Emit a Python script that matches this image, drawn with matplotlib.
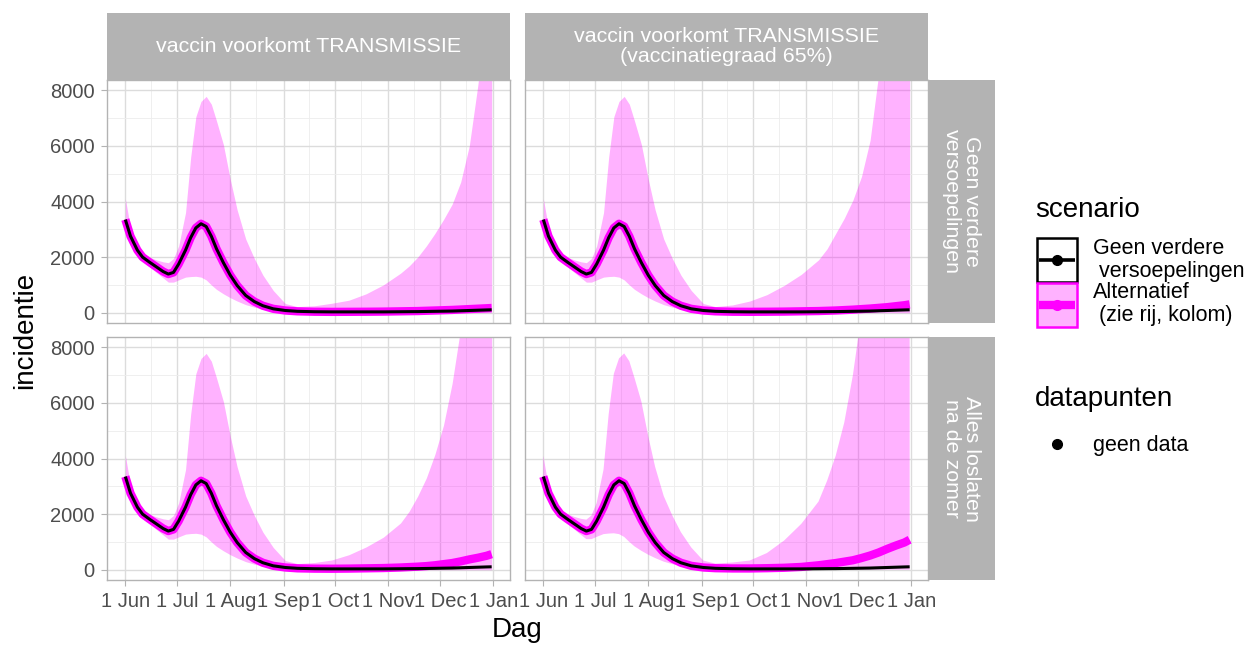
#!/usr/bin/env python3

import numpy as np
import matplotlib
matplotlib.use('Agg')
import matplotlib.pyplot as plt
import matplotlib.dates as mdates
import matplotlib.ticker as mticker
from matplotlib.patches import Rectangle
from matplotlib.lines import Line2D

plt.rcParams['font.family'] = ['Liberation Sans', 'DejaVu Sans']


# ---------- #
# -- DATA -- #
# ---------- #

start_date  = np.datetime64('2021-06-01')
day_offsets = [0, 3, 7, 10, 14, 18, 22, 25, 28, 31, 35, 38, 41, 44, 47,
               50, 53, 57, 61, 65, 70, 75, 80, 86, 93,
               100, 110, 120, 130, 140, 150, 160, 165, 170, 175, 180,
               185, 190, 195, 200, 205, 210, 213]

# black line (Geen verdere versoepelingen), same in every panel
base_early = [3350, 2750, 2250, 2000, 1820, 1650, 1480, 1390, 1450, 1750,
              2250, 2700, 3050, 3200, 3100, 2750, 2300, 1800, 1350, 980,
              620, 400, 250, 140, 80]
base_late  = [50, 35, 30, 30, 30, 30, 35, 38, 40, 45, 50, 55, 60, 70, 80,
              90, 100, 105]

# lower edge of the band
low_band = [3250, 2550, 2100, 1850, 1650, 1450, 1250, 1100, 1100, 1180,
            1280, 1300, 1310, 1280, 1180, 1000, 840, 680, 540, 420,
            290, 200, 130, 70, 30, 10, 0, 0, 0, 0, 0, 0, 0, 0, 0, 0,
            0, 0, 0, 0, 0, 0, 0]

# upper edge of the band, summer part shared by all panels
high_early = [4100, 3050, 2400, 2150, 2000, 1900, 1830, 1800, 1950, 2400,
              3600, 5600, 7050, 7600, 7780, 7500, 6900, 6050, 4800, 3700,
              2650, 1950, 1350, 800, 330]
high_late_tl = [220, 250, 340, 450, 680, 1000, 1420, 1680, 2000, 2400,
                2850, 3350, 3900, 4700, 6000, 8200, 11000, 13000]
high_late_tr = [220, 280, 420, 650, 980, 1380, 1900, 2300, 2850, 3400,
                4050, 4900, 6200, 8600, 11000, 14000, 17000, 19000]
high_late_bl = [220, 260, 350, 540, 820, 1170, 1680, 2100, 2650, 3300,
                4150, 5200, 6700, 8700, 11000, 14000, 17000, 19000]
high_late_br = [220, 260, 330, 600, 1050, 1650, 2450, 3200, 4100, 5300,
                7000, 9200, 12000, 15000, 18000, 21000, 24000, 26000]

# magenta line (Alternatief), autumn part per panel
mid_late_tl = [50, 35, 30, 32, 35, 40, 50, 55, 60, 70, 80, 90, 100, 115,
               130, 145, 160, 170]
mid_late_tr = [50, 35, 32, 35, 40, 50, 60, 70, 80, 95, 110, 130, 150, 175,
               200, 235, 270, 300]
mid_late_bl = [50, 38, 35, 40, 50, 60, 80, 95, 110, 130, 160, 200, 240,
               300, 370, 430, 500, 560]
mid_late_br = [55, 45, 45, 55, 70, 100, 160, 200, 240, 290, 340, 420, 510,
               620, 750, 870, 980, 1080]

col_labels = ['vaccin voorkomt TRANSMISSIE',
              'vaccin voorkomt TRANSMISSIE\n(vaccinatiegraad 65%)']
row_labels = ['Geen verdere\nversoepelingen',
              'Alles loslaten\nna de zomer']
y_ticks    = [0, 2000, 4000, 6000, 8000]

legend_labels = ['Geen verdere\n versoepelingen', 'Alternatief\n (zie rij, kolom)']


# ----------- #
# -- STYLE -- #
# ----------- #

W, H      = 1247, 646
MAGENTA   = '#FF00FF'
BORDER    = '#B3B3B3'
STRIP     = '#B3B3B3'
GRID_MAJ  = '#DCDCDC'
GRID_MIN  = '#EDEDED'
TICK_TXT  = '#4D4D4D'

col_x   = [107, 525]
row_y   = [80, 337]
panel_w = 403
panel_h = 243
strip_t = 67     # thickness of the grey strips


dates    = start_date + np.array(day_offsets).astype('timedelta64[D]')
baseline = base_early + base_late

panels = {
    (0, 0): (base_early + mid_late_tl, high_early + high_late_tl),
    (0, 1): (base_early + mid_late_tr, high_early + high_late_tr),
    (1, 0): (base_early + mid_late_bl, high_early + high_late_bl),
    (1, 1): (base_early + mid_late_br, high_early + high_late_br),
}


def month_label(x, pos):
    d = mdates.num2date(x)
    return f'{d.day} {d.strftime("%b")}'


fig = plt.figure(figsize=(W / 100, H / 100), dpi=100)

for (r, c), (mid, high) in panels.items():
    ax = fig.add_axes([
        col_x[c] / W,
        1 - (row_y[r] + panel_h) / H,
        panel_w / W,
        panel_h / H,
    ])

    ax.fill_between(dates, low_band, high, color=MAGENTA, alpha=0.3, lw=0, zorder=2)
    ax.plot(dates, mid, color=MAGENTA, lw=6, solid_capstyle='butt', zorder=3)
    ax.plot(dates, baseline, color='black', lw=2.2, solid_capstyle='butt', zorder=4)

    ax.set_xlim(np.datetime64('2021-05-21T08:00'), np.datetime64('2022-01-10T16:00'))
    ax.set_ylim(-370, 8370)

    ax.xaxis.set_major_locator(mdates.MonthLocator())
    ax.xaxis.set_minor_locator(mdates.MonthLocator(bymonthday=16))
    ax.xaxis.set_major_formatter(mticker.FuncFormatter(month_label))
    ax.set_yticks(y_ticks)
    ax.yaxis.set_minor_locator(mticker.MultipleLocator(1000))

    ax.set_axisbelow(True)
    ax.grid(which='major', color=GRID_MAJ, lw=1.0)
    ax.grid(which='minor', color=GRID_MIN, lw=0.6)

    for sp in ax.spines.values():
        sp.set_color(BORDER)
        sp.set_linewidth(1.0)

    ax.tick_params(which='major', length=4.3, width=0.8, color=BORDER,
                   labelsize=14.5, labelcolor=TICK_TXT, pad=4.5)
    ax.tick_params(which='minor', length=0)

    if r == 0:
        ax.tick_params(axis='x', which='major', length=0, labelbottom=False)
    if c == 1:
        ax.tick_params(axis='y', which='major', length=0, labelleft=False)


# strips on top
for c, label in enumerate(col_labels):
    fig.add_artist(Rectangle(
        (col_x[c] / W, 1 - row_y[0] / H), panel_w / W, strip_t / H,
        transform=fig.transFigure, facecolor=STRIP, edgecolor='none'))
    fig.text((col_x[c] + panel_w / 2) / W, 1 - (row_y[0] - strip_t / 2) / H, label,
             ha='center', va='center', color='white', fontsize=15.4,
             linespacing=1.05)

# strips on the right
strip_x = col_x[1] + panel_w
for r, label in enumerate(row_labels):
    fig.add_artist(Rectangle(
        (strip_x / W, 1 - (row_y[r] + panel_h) / H), strip_t / W, panel_h / H,
        transform=fig.transFigure, facecolor=STRIP, edgecolor='none'))
    fig.text((strip_x + strip_t / 2) / W, 1 - (row_y[r] + panel_h / 2) / H, label,
             ha='center', va='center', color='white', fontsize=15.4,
             rotation=-90, linespacing=1.05)

# axis titles
fig.text(517 / W, 1 - 630 / H, 'Dag', ha='center', va='center', fontsize=20)
fig.text(25 / W, 1 - 330 / H, 'incidentie', ha='center', va='center',
         fontsize=20, rotation=90)


# ------------ #
# -- LEGEND -- #
# ------------ #

lg = fig.add_axes([0, 0, 1, 1])
lg.set_xlim(0, W)
lg.set_ylim(H, 0)
lg.axis('off')

lg.text(1035, 210, 'scenario', ha='left', va='center', fontsize=20)

key_styles = [
    dict(fc='white', ec='black', line='black', lw=2.6),
    dict(fc=(1, 0, 1, 0.3), ec=MAGENTA, line=MAGENTA, lw=6),
]
for i, (label, st) in enumerate(zip(legend_labels, key_styles)):
    top = 238 + i * 45
    lg.add_patch(Rectangle((1037, top), 40, 44, facecolor=st['fc'],
                           edgecolor=st['ec'], lw=1.8))
    lg.add_line(Line2D([1039, 1075], [top + 22, top + 22], color=st['line'],
                       lw=st['lw'], solid_capstyle='butt'))
    lg.plot([1057], [top + 22], 'o', color=st['line'], ms=7)
    first, second = label.split('\n')
    lg.text(1093, top + 10, first, ha='left', va='center', fontsize=15.5)
    lg.text(1093, top + 33, second, ha='left', va='center', fontsize=15.5)

lg.text(1035, 399, 'datapunten', ha='left', va='center', fontsize=20)
lg.plot([1057], [444], 'o', color='black', ms=7)
lg.text(1093, 445, 'geen data', ha='left', va='center', fontsize=15.5)


fig.savefig('out.png', dpi=100, facecolor='white')
plt.close(fig)
